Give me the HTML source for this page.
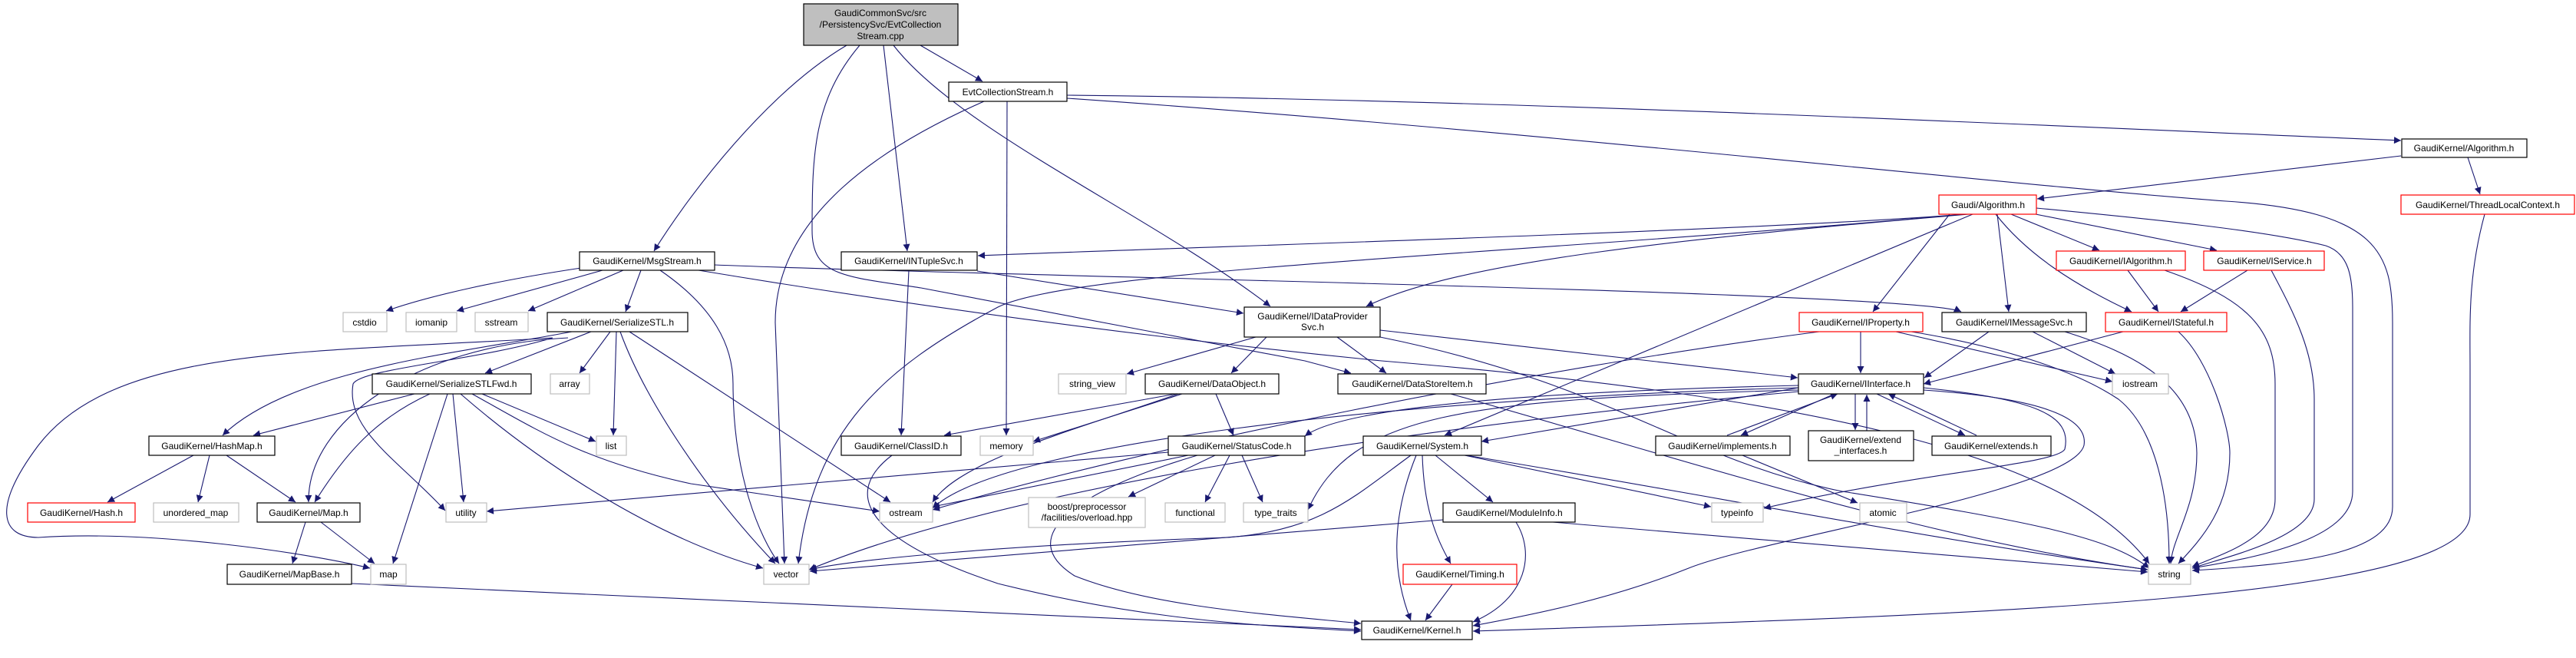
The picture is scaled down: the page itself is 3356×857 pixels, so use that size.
<!DOCTYPE html>
<html><head><meta charset="utf-8"><style>
html,body{margin:0;padding:0;background:#fff;}
svg{display:block;}
text{font-family:"Liberation Sans",sans-serif;font-size:12px;fill:#000;}
</style></head><body>
<svg width="3356" height="857" viewBox="0 0 3356 857" xmlns="http://www.w3.org/2000/svg">
<defs>
<marker id="a" viewBox="0 0 10 10" refX="10" refY="5" markerUnits="userSpaceOnUse" markerWidth="12" markerHeight="9" orient="auto">
<path d="M0,0 L10,5 L0,10 z" fill="#191970"/>
</marker>
</defs>
<g fill="none" stroke="#191970" stroke-width="1.1" marker-end="url(#a)">
<path d="M1103,59 C1000,120 900,250 852,327"/>
<path d="M1120,59 C1060,130 1058,200 1058,300 C1058,360 1100,360 1200,375 L1700,470 L1760,486"/>
<path d="M1151,59 L1182,327"/>
<path d="M1164,59 C1250,170 1500,280 1655,399"/>
<path d="M1199,59 L1280,106"/>
<path d="M1282,132 C1150,190 1010,280 1010,420 L1022,734"/>
<path d="M1312,132 L1311,567"/>
<path d="M1390,124 C2000,130 2800,170 3128,183"/>
<path d="M1390,128 C2000,170 2600,240 2900,262 C3100,275 3117,330 3117,420 L3117,660 C3117,720 3000,735 2856,743"/>
<path d="M757,349 C650,365 560,385 503,405"/>
<path d="M785,352 L595,405"/>
<path d="M812,352 L688,405"/>
<path d="M835,352 L815,406"/>
<path d="M860,352 C930,400 955,450 955,500 C955,620 990,700 1015,734"/>
<path d="M931,345 C1300,360 2500,380 2555,406"/>
<path d="M910,352 C1200,400 1500,440 1800,470 C2400,520 2700,600 2800,734"/>
<path d="M795,432 L755,486"/>
<path d="M803,432 L799,567"/>
<path d="M770,432 L632,486"/>
<path d="M745,432 C600,460 380,480 290,567"/>
<path d="M740,440 C540,450 400,550 402,654"/>
<path d="M720,440 C400,460 150,450 50,580 C-10,660 0,700 50,700 C200,690 400,720 482,740"/>
<path d="M720,440 C620,470 470,480 460,500 C450,560 520,600 580,665"/>
<path d="M808,432 C840,520 920,640 1010,734"/>
<path d="M820,432 L1160,654"/>
<path d="M540,513 L330,567"/>
<path d="M560,513 C490,545 450,590 410,654"/>
<path d="M583,513 L512,734"/>
<path d="M590,513 L604,654"/>
<path d="M628,513 L776,575"/>
<path d="M600,513 C700,600 850,700 994,740"/>
<path d="M615,513 C700,560 760,600 900,630 L1146,666"/>
<path d="M252,593 L140,654"/>
<path d="M273,593 L258,654"/>
<path d="M295,593 L385,654"/>
<path d="M398,680 L381,734"/>
<path d="M418,680 L488,734"/>
<path d="M458,760 L1773,820"/>
<path d="M1184,352 L1174,567"/>
<path d="M1273,353 L1620,408"/>
<path d="M1636,439 L1468,487"/>
<path d="M1650,439 L1604,486"/>
<path d="M1742,439 L1806,486"/>
<path d="M1798,430 L2342,492"/>
<path d="M1798,439 C2100,500 2200,600 2400,640 C2650,680 2750,700 2800,740"/>
<path d="M1532,513 L1230,567"/>
<path d="M1540,513 L1346,575"/>
<path d="M1535,513 C1400,560 1250,600 1215,654"/>
<path d="M1584,513 L1607,567"/>
<path d="M1522,589 L634,666"/>
<path d="M1548,593 L1215,660"/>
<path d="M1583,593 L1470,647"/>
<path d="M1602,593 L1570,654"/>
<path d="M1618,593 L1645,654"/>
<path d="M1560,593 C1400,640 1320,700 1400,750 C1500,790 1650,800 1773,812"/>
<path d="M1162,593 C1100,640 1120,700 1300,760 C1500,810 1650,815 1773,822"/>
<path d="M1890,513 C2200,600 2500,700 2798,742"/>
<path d="M3128,203 L2654,259"/>
<path d="M3215,205 L3231,253"/>
<path d="M3237,279 C3215,360 3218,420 3218,480 L3218,670 C3218,780 2600,800 1919,822"/>
<path d="M2560,279 C2300,300 1600,320 1274,333"/>
<path d="M2565,279 C2200,310 1900,340 1780,399"/>
<path d="M2560,279 C2000,330 1400,350 1300,400 C1150,480 1060,560 1040,734"/>
<path d="M2570,279 L1882,567"/>
<path d="M2540,279 L2440,406"/>
<path d="M2602,279 L2617,406"/>
<path d="M2620,279 L2735,326"/>
<path d="M2652,279 L2888,326"/>
<path d="M2600,279 C2640,330 2700,370 2777,406"/>
<path d="M2653,271 C2800,285 2950,300 3030,320 C3060,330 3065,360 3065,400 L3065,640 C3065,700 2950,725 2856,740"/>
<path d="M2772,352 L2812,406"/>
<path d="M2820,352 C2930,390 2964,430 2964,500 L2964,650 C2964,700 2900,720 2856,738"/>
<path d="M2928,352 L2841,406"/>
<path d="M2959,352 C2990,410 3015,460 3015,520 L3015,650 C3015,700 2900,725 2856,740"/>
<path d="M2766,432 L2506,500"/>
<path d="M2838,432 C2880,470 2905,560 2905,590 C2905,660 2870,700 2838,734"/>
<path d="M2591,432 L2507,492"/>
<path d="M2648,432 L2756,487"/>
<path d="M2690,432 C2780,460 2860,500 2862,590 C2862,660 2830,700 2828,734"/>
<path d="M2424,432 L2424,486"/>
<path d="M2470,432 L2752,497"/>
<path d="M2490,432 C2600,450 2700,480 2760,520 C2810,560 2826,650 2826,734"/>
<path d="M2370,432 C2000,480 1500,580 1215,664"/>
<path d="M2343,505 L1930,575"/>
<path d="M2390,513 L2268,567"/>
<path d="M2417,513 L2417,560"/>
<path d="M2445,513 L2560,567"/>
<path d="M2506,505 C2650,520 2700,540 2690,585 C2680,605 2500,615 2298,662"/>
<path d="M2506,508 C2680,520 2720,550 2715,580 C2700,640 2300,700 2200,740 C2100,780 2000,800 1919,815"/>
<path d="M2343,502 C2000,510 1750,530 1700,568"/>
<path d="M2343,508 C1900,520 1760,540 1704,664"/>
<path d="M2343,510 C1800,560 1300,640 1054,742"/>
<path d="M2343,505 C1800,520 1300,580 1215,662"/>
<path d="M2250,567 L2394,513"/>
<path d="M2270,593 L2420,655"/>
<path d="M2432,561 L2432,514"/>
<path d="M2575,567 L2460,513"/>
<path d="M1845,593 C1810,680 1815,750 1838,808"/>
<path d="M1853,593 C1855,660 1870,700 1890,734"/>
<path d="M1870,593 L1945,654"/>
<path d="M1910,593 C2200,640 2500,700 2798,742"/>
<path d="M1908,593 L2229,660"/>
<path d="M1838,593 C1760,650 1720,690 1600,700 C1300,710 1100,730 1055,742"/>
<path d="M1880,677 L1055,744"/>
<path d="M2023,680 L2798,745"/>
<path d="M1975,680 C2000,720 1990,780 1919,810"/>
<path d="M1892,761 L1857,808"/>
</g>
<g stroke-width="1.2">
<rect x="1047" y="5" width="201" height="54" fill="#bfbfbf" stroke="#000"/>
<text x="1147" y="21" text-anchor="middle">GaudiCommonSvc/src</text>
<text x="1147" y="36" text-anchor="middle">/PersistencySvc/EvtCollection</text>
<text x="1147" y="51" text-anchor="middle">Stream.cpp</text>
<g fill="#fff" stroke="#000">
<rect x="1236" y="107" width="154" height="25"/>
<rect x="3129" y="181" width="163" height="24"/>
<rect x="755" y="328" width="176" height="24"/>
<rect x="1096" y="328" width="177" height="24"/>
<rect x="1621" y="400" width="177" height="39"/>
<rect x="713" y="407" width="183" height="25"/>
<rect x="2530" y="407" width="188" height="25"/>
<rect x="485" y="487" width="207" height="26"/>
<rect x="1492" y="487" width="174" height="26"/>
<rect x="1743" y="487" width="193" height="26"/>
<rect x="2343" y="487" width="163" height="26"/>
<rect x="194" y="568" width="164" height="25"/>
<rect x="1096" y="568" width="156" height="25"/>
<rect x="1522" y="568" width="178" height="25"/>
<rect x="1776" y="568" width="154" height="25"/>
<rect x="2157" y="568" width="175" height="25"/>
<rect x="2356" y="561" width="137" height="39"/>
<rect x="2517" y="568" width="155" height="25"/>
<rect x="335" y="655" width="134" height="25"/>
<rect x="1880" y="655" width="172" height="25"/>
<rect x="296" y="735" width="162" height="26"/>
<rect x="1774" y="809" width="144" height="24"/>
</g>
<g fill="#fff" stroke="#ff0000">
<rect x="2526" y="254" width="127" height="25"/>
<rect x="3128" y="254" width="226" height="25"/>
<rect x="2679" y="327" width="168" height="25"/>
<rect x="2871" y="327" width="157" height="25"/>
<rect x="2344" y="407" width="161" height="25"/>
<rect x="2743" y="407" width="158" height="25"/>
<rect x="36" y="655" width="140" height="25"/>
<rect x="1828" y="735" width="148" height="26"/>
</g>
<g fill="#fff" stroke="#bfbfbf">
<rect x="447" y="407" width="57" height="25"/>
<rect x="529" y="407" width="66" height="25"/>
<rect x="619" y="407" width="69" height="25"/>
<rect x="717" y="487" width="51" height="26"/>
<rect x="1379" y="487" width="88" height="26"/>
<rect x="2752" y="487" width="73" height="26"/>
<rect x="777" y="568" width="39" height="25"/>
<rect x="1277" y="568" width="69" height="25"/>
<rect x="200" y="655" width="111" height="25"/>
<rect x="581" y="655" width="53" height="25"/>
<rect x="1146" y="655" width="69" height="25"/>
<rect x="1340" y="648" width="152" height="39"/>
<rect x="1518" y="655" width="78" height="25"/>
<rect x="1620" y="655" width="84" height="25"/>
<rect x="2230" y="655" width="67" height="25"/>
<rect x="2423" y="655" width="61" height="25"/>
<rect x="483" y="735" width="46" height="26"/>
<rect x="995" y="735" width="59" height="26"/>
<rect x="2799" y="735" width="55" height="26"/>
</g>
</g>
<g text-anchor="middle">
<text x="1313" y="124">EvtCollectionStream.h</text>
<text x="3210" y="197">GaudiKernel/Algorithm.h</text>
<text x="2590" y="271">Gaudi/Algorithm.h</text>
<text x="3241" y="271">GaudiKernel/ThreadLocalContext.h</text>
<text x="843" y="344">GaudiKernel/MsgStream.h</text>
<text x="1184" y="344">GaudiKernel/INTupleSvc.h</text>
<text x="2763" y="344">GaudiKernel/IAlgorithm.h</text>
<text x="2950" y="344">GaudiKernel/IService.h</text>
<text x="1710" y="416">GaudiKernel/IDataProvider</text>
<text x="1710" y="430">Svc.h</text>
<text x="475" y="424">cstdio</text>
<text x="562" y="424">iomanip</text>
<text x="653" y="424">sstream</text>
<text x="804" y="424">GaudiKernel/SerializeSTL.h</text>
<text x="2424" y="424">GaudiKernel/IProperty.h</text>
<text x="2624" y="424">GaudiKernel/IMessageSvc.h</text>
<text x="2822" y="424">GaudiKernel/IStateful.h</text>
<text x="588" y="504">GaudiKernel/SerializeSTLFwd.h</text>
<text x="742" y="504">array</text>
<text x="1423" y="504">string_view</text>
<text x="1579" y="504">GaudiKernel/DataObject.h</text>
<text x="1840" y="504">GaudiKernel/DataStoreItem.h</text>
<text x="2424" y="504">GaudiKernel/IInterface.h</text>
<text x="2788" y="504">iostream</text>
<text x="276" y="585">GaudiKernel/HashMap.h</text>
<text x="796" y="585">list</text>
<text x="1174" y="585">GaudiKernel/ClassID.h</text>
<text x="1311" y="585">memory</text>
<text x="1611" y="585">GaudiKernel/StatusCode.h</text>
<text x="1853" y="585">GaudiKernel/System.h</text>
<text x="2244" y="585">GaudiKernel/implements.h</text>
<text x="2424" y="577">GaudiKernel/extend</text>
<text x="2424" y="591">_interfaces.h</text>
<text x="2594" y="585">GaudiKernel/extends.h</text>
<text x="106" y="672">GaudiKernel/Hash.h</text>
<text x="255" y="672">unordered_map</text>
<text x="402" y="672">GaudiKernel/Map.h</text>
<text x="607" y="672">utility</text>
<text x="1180" y="672">ostream</text>
<text x="1416" y="664">boost/preprocessor</text>
<text x="1416" y="678">/facilities/overload.hpp</text>
<text x="1557" y="672">functional</text>
<text x="1662" y="672">type_traits</text>
<text x="2263" y="672">typeinfo</text>
<text x="2453" y="672">atomic</text>
<text x="1966" y="672">GaudiKernel/ModuleInfo.h</text>
<text x="377" y="752">GaudiKernel/MapBase.h</text>
<text x="506" y="752">map</text>
<text x="1024" y="752">vector</text>
<text x="1902" y="752">GaudiKernel/Timing.h</text>
<text x="2826" y="752">string</text>
<text x="1846" y="825">GaudiKernel/Kernel.h</text>
</g>
</svg>
</body></html>
